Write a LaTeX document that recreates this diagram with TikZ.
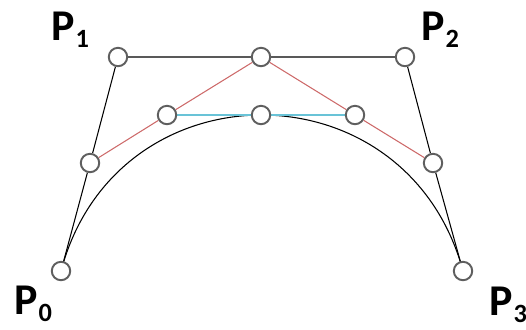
\documentclass[tikz,border=0pt]{standalone}
\usepackage{fontspec}
\setmainfont{Carlito}
\usetikzlibrary{backgrounds}
\definecolor{splitred}{RGB}{205,105,105}
\definecolor{splitcyan}{RGB}{105,195,215}
\definecolor{ringgray}{RGB}{95,95,95}
\tikzset{
  pt/.style={circle, draw=ringgray, fill=white, line width=1.1pt, inner sep=0pt, minimum size=10.5pt},
  lbl/.style={anchor=base west, inner sep=0pt, font=\bfseries},
}
\newcommand{\plabel}[1]{{\fontsize{25}{25}\selectfont P}\kern0.5pt\raisebox{-4.5pt}{\fontsize{15}{15}\selectfont #1}}

\begin{document}
\begin{tikzpicture}[x=0.02cm, y=-0.02cm]
    \useasboundingbox (0,0) rectangle (526,329);
    % control points
    \node[pt] (p0) at (61,271) {};
    \node[pt] (p1) at (118,57) {};
    \node[pt] (p2) at (405,57) {};
    \node[pt] (p3) at (463,271) {};
    % first split
    \node[pt] (m01) at (90,163) {};
    \node[pt] (m12) at (261,57) {};
    \node[pt] (m23) at (433,163) {};
    % second split
    \node[pt] (q1) at (167,115) {};
    \node[pt] (q2) at (355,115) {};
    \node[pt] (r) at (261,115) {};
    \begin{scope}[on background layer]
        \draw[line width=0.6pt] (p0.center) .. controls (116.4,63) and (406.6,63) .. (p3.center);
        \draw[line width=0.6pt] (p0) -- (m01) -- (p1) -- (m12) -- (p2) -- (m23) -- (p3);
        \draw[splitred, line width=0.6pt] (m01) -- (q1) -- (m12) -- (q2) -- (m23);
        \draw[splitcyan, line width=0.6pt] (q1) -- (r) -- (q2);
    \end{scope}
    % labels
    \node[lbl] (t1) at (51,40) {\plabel{1}};
    \node[lbl] (t2) at (421,40) {\plabel{2}};
    \node[lbl] (t0) at (14,314) {\plabel{0}};
    \node[lbl] (t3) at (489,315) {\plabel{3}};
\end{tikzpicture}
\end{document}
